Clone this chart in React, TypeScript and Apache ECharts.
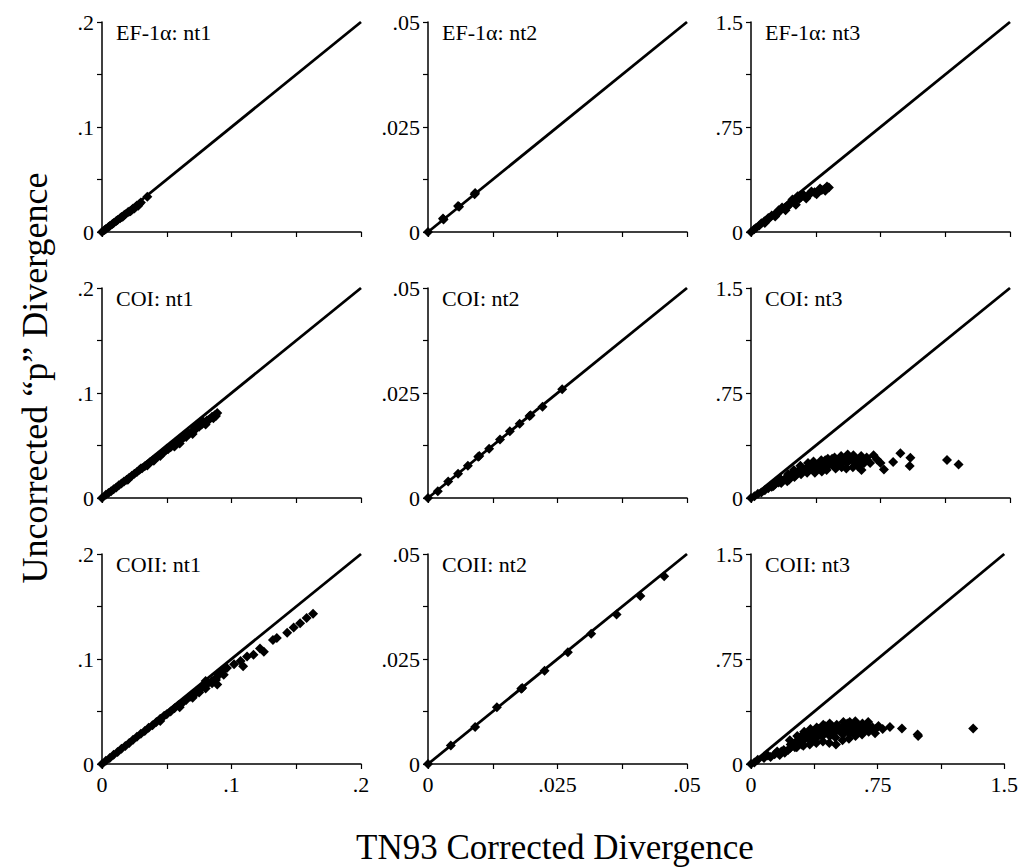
import React, { useEffect, useRef } from "react";
import * as echarts from "echarts";

// Panel titles
const panelTitles = [
  "EF-1α: nt1", "EF-1α: nt2", "EF-1α: nt3",
  "COI: nt1", "COI: nt2", "COI: nt3",
  "COII: nt1", "COII: nt2", "COII: nt3",
];

// Axis ranges and tick labels per column (nt1, nt2, nt3)
const colMax = [0.2, 0.05, 1.5];
const colInterval = [0.05, 0.0125, 0.375];
const colTickLabels = [
  ["0", "", ".1", "", ".2"],
  ["0", "", ".025", "", ".05"],
  ["0", "", ".75", "", "1.5"],
];

const xTitle = "TN93 Corrected Divergence";
const yTitle = "Uncorrected “p” Divergence";

// [TN93 corrected, uncorrected p]
const ef1aNt1 = [
  [0, 0], [0.002, 0.002], [0.003, 0.0028], [0.005, 0.0047], [0.006, 0.0058], [0.008, 0.0076],
  [0.009, 0.0086], [0.011, 0.0104], [0.012, 0.0114], [0.014, 0.0131], [0.015, 0.0143],
  [0.017, 0.0159], [0.018, 0.017], [0.02, 0.0187], [0.021, 0.0196], [0.023, 0.0213],
  [0.024, 0.0224], [0.026, 0.0241], [0.027, 0.0253], [0.029, 0.0268], [0.03, 0.0281],
  [0.025, 0.0225], [0.028, 0.025], [0.022, 0.0198], [0.016, 0.0145], [0.035, 0.0335],
];
const ef1aNt2 = [
  [0, 0], [0.003, 0.003], [0.0029, 0.0032], [0.006, 0.006], [0.0058, 0.0062],
  [0.009, 0.009], [0.0091, 0.0093],
];
const ef1aNt3 = [
  [0, 0], [0.019, 0.019], [0.048, 0.047], [0.077, 0.076], [0.106, 0.099], [0.135, 0.123],
  [0.165, 0.147], [0.194, 0.17], [0.223, 0.194], [0.252, 0.218], [0.281, 0.237],
  [0.31, 0.256], [0.339, 0.27], [0.368, 0.284], [0.397, 0.296], [0.426, 0.308], [0.451, 0.317],
  [0.06, 0.062], [0.12, 0.118], [0.18, 0.175], [0.24, 0.232], [0.27, 0.255], [0.3, 0.27],
  [0.35, 0.29], [0.4, 0.31], [0.44, 0.325],
  [0.08, 0.065], [0.14, 0.11], [0.2, 0.155], [0.26, 0.195], [0.32, 0.24], [0.38, 0.27], [0.43, 0.295],
  [0.03, 0.03], [0.09, 0.085], [0.15, 0.13], [0.21, 0.18], [0.29, 0.25], [0.33, 0.26],
  [0.37, 0.28], [0.41, 0.3], [0.22, 0.2], [0.16, 0.155], [0.1, 0.1],
];
const coiNt1 = [
  [0, 0], [0.003, 0.003], [0.005, 0.0048], [0.007, 0.0065], [0.009, 0.0084], [0.011, 0.0101],
  [0.013, 0.0121], [0.015, 0.0139], [0.017, 0.0158], [0.019, 0.0175], [0.021, 0.0194],
  [0.023, 0.0211], [0.025, 0.0231], [0.027, 0.0247], [0.029, 0.0269], [0.031, 0.0284],
  [0.033, 0.0303], [0.035, 0.0319], [0.037, 0.0341], [0.039, 0.0356], [0.041, 0.0377],
  [0.043, 0.0392], [0.045, 0.0411], [0.047, 0.0429], [0.049, 0.0449], [0.051, 0.0464],
  [0.053, 0.0484], [0.055, 0.0501], [0.057, 0.0521], [0.059, 0.0537], [0.061, 0.0556],
  [0.063, 0.0574], [0.065, 0.0591], [0.067, 0.0609], [0.069, 0.0629], [0.071, 0.0645],
  [0.073, 0.0665], [0.075, 0.0679], [0.077, 0.0701], [0.079, 0.0717], [0.081, 0.0737],
  [0.083, 0.0751], [0.085, 0.0773], [0.087, 0.0789], [0.089, 0.081],
  [0.02, 0.0175], [0.04, 0.0355], [0.06, 0.052], [0.07, 0.061], [0.08, 0.07], [0.086, 0.076],
  [0.03, 0.028], [0.05, 0.047], [0.066, 0.062], [0.076, 0.071], [0.056, 0.049],
  [0.035, 0.031], [0.045, 0.04], [0.055, 0.051], [0.065, 0.058], [0.072, 0.067],
  [0.082, 0.074], [0.088, 0.078], [0.078, 0.073],
];
const coiNt2 = [
  [0, 0], [0.0019, 0.0016], [0.0039, 0.0039], [0.0058, 0.0058], [0.0077, 0.0077],
  [0.0099, 0.01], [0.0097, 0.0098], [0.0118, 0.0117], [0.0139, 0.0139], [0.0158, 0.0159],
  [0.0177, 0.0177], [0.0198, 0.0197], [0.0196, 0.0195], [0.0221, 0.0217], [0.0259, 0.0259],
];
const coiNt3 = [
  [0, 0], [0.02, 0.012], [0.04, 0.03], [0.06, 0.04], [0.08, 0.055], [0.1, 0.07], [0.12, 0.08],
  [0.14, 0.1], [0.13, 0.085], [0.16, 0.11], [0.18, 0.12], [0.17, 0.135],
  [0.173, 0.132], [0.175, 0.108],
  [0.212, 0.156], [0.21, 0.12], [0.215, 0.17],
  [0.25, 0.18], [0.252, 0.15], [0.248, 0.2],
  [0.288, 0.204], [0.29, 0.17], [0.286, 0.23],
  [0.327, 0.22], [0.325, 0.18], [0.33, 0.25],
  [0.365, 0.24], [0.367, 0.2], [0.362, 0.26], [0.37, 0.18],
  [0.404, 0.25], [0.4, 0.21], [0.407, 0.27], [0.41, 0.19],
  [0.442, 0.26], [0.44, 0.22], [0.445, 0.28], [0.438, 0.2],
  [0.481, 0.27], [0.478, 0.23], [0.484, 0.29], [0.49, 0.21],
  [0.519, 0.28], [0.515, 0.24], [0.522, 0.3], [0.525, 0.22],
  [0.558, 0.285], [0.555, 0.25], [0.56, 0.31], [0.552, 0.21],
  [0.596, 0.29], [0.6, 0.255], [0.593, 0.305], [0.59, 0.22],
  [0.635, 0.28], [0.63, 0.25], [0.638, 0.3], [0.64, 0.2],
  [0.673, 0.27], [0.67, 0.29],
  [0.23, 0.165], [0.27, 0.19], [0.31, 0.2], [0.35, 0.23], [0.385, 0.235], [0.42, 0.245],
  [0.46, 0.25], [0.5, 0.26], [0.54, 0.27], [0.575, 0.275], [0.615, 0.265], [0.655, 0.25],
  [0.39, 0.22], [0.43, 0.27], [0.47, 0.28], [0.51, 0.25], [0.55, 0.295], [0.6, 0.28],
  [0.62, 0.225], [0.5, 0.225], [0.45, 0.24], [0.34, 0.21], [0.3, 0.19], [0.2, 0.14],
  [0.22, 0.13], [0.26, 0.165],
  [0.69, 0.25], [0.71, 0.305], [0.73, 0.275], [0.75, 0.25], [0.77, 0.204], [0.823, 0.257],
  [0.865, 0.319], [0.923, 0.288], [0.919, 0.228], [1.135, 0.271], [1.202, 0.24],
];
const coiiNt1 = [
  [0, 0], [0.003, 0.003], [0.006, 0.0058], [0.009, 0.0087], [0.012, 0.0115], [0.015, 0.0145],
  [0.018, 0.0172], [0.021, 0.02], [0.024, 0.023], [0.027, 0.026], [0.03, 0.0288],
  [0.033, 0.0315], [0.036, 0.0345], [0.039, 0.037], [0.042, 0.04], [0.045, 0.043],
  [0.048, 0.046], [0.05, 0.0475], [0.053, 0.05], [0.056, 0.053], [0.059, 0.056],
  [0.062, 0.058], [0.065, 0.061], [0.068, 0.064], [0.07, 0.066], [0.073, 0.068],
  [0.076, 0.071], [0.079, 0.074], [0.082, 0.077], [0.085, 0.079], [0.088, 0.082],
  [0.09, 0.085], [0.092, 0.087],
  [0.045, 0.041], [0.06, 0.054], [0.07, 0.063], [0.075, 0.068], [0.08, 0.072], [0.085, 0.077],
  [0.088, 0.08], [0.08, 0.079], [0.094, 0.09],
  [0.0965, 0.0914], [0.102, 0.095], [0.107, 0.098], [0.109, 0.093], [0.112, 0.1025],
  [0.117, 0.104], [0.122, 0.11], [0.125, 0.107], [0.132, 0.118], [0.135, 0.12],
  [0.143, 0.125], [0.148, 0.13], [0.153, 0.134], [0.158, 0.139], [0.163, 0.143],
  [0.094, 0.085], [0.089, 0.0756],
];
const coiiNt2 = [
  [0, 0], [0.0044, 0.0044], [0.0091, 0.0088], [0.0133, 0.0135], [0.018, 0.0179],
  [0.0182, 0.0181], [0.0225, 0.0222], [0.027, 0.0266], [0.0315, 0.031], [0.0364, 0.0356],
  [0.041, 0.04], [0.0456, 0.0447],
];
const coiiNt3 = [
  [0, 0], [0.02, 0.01], [0.04, 0.03], [0.077, 0.043], [0.1, 0.06], [0.116, 0.05], [0.14, 0.07],
  [0.155, 0.09], [0.17, 0.065], [0.194, 0.1], [0.2, 0.08],
  [0.232, 0.115], [0.235, 0.14], [0.23, 0.17],
  [0.271, 0.12], [0.268, 0.16], [0.274, 0.2],
  [0.31, 0.13], [0.312, 0.17], [0.308, 0.21], [0.315, 0.23],
  [0.348, 0.14], [0.345, 0.18], [0.35, 0.22], [0.352, 0.25],
  [0.387, 0.15], [0.39, 0.19], [0.384, 0.23], [0.389, 0.26],
  [0.426, 0.16], [0.423, 0.2], [0.43, 0.24], [0.428, 0.28],
  [0.464, 0.15], [0.467, 0.2], [0.46, 0.25], [0.466, 0.29],
  [0.503, 0.14], [0.5, 0.19], [0.506, 0.24], [0.508, 0.28],
  [0.542, 0.17], [0.545, 0.21], [0.54, 0.26], [0.547, 0.3],
  [0.58, 0.18], [0.583, 0.22], [0.578, 0.27], [0.585, 0.3],
  [0.619, 0.2], [0.615, 0.24], [0.622, 0.28], [0.618, 0.305],
  [0.658, 0.21], [0.655, 0.25], [0.66, 0.29],
  [0.697, 0.23], [0.7, 0.27], [0.694, 0.3],
  [0.735, 0.22], [0.738, 0.25],
  [0.25, 0.14], [0.29, 0.18], [0.33, 0.19], [0.37, 0.21], [0.41, 0.22], [0.45, 0.23],
  [0.49, 0.22], [0.52, 0.26], [0.56, 0.24], [0.6, 0.25], [0.64, 0.27], [0.68, 0.25],
  [0.72, 0.26], [0.36, 0.17], [0.4, 0.25], [0.44, 0.27], [0.48, 0.27], [0.53, 0.23],
  [0.57, 0.29], [0.61, 0.22], [0.65, 0.23], [0.3, 0.14], [0.26, 0.12], [0.22, 0.1], [0.18, 0.09],
  [0.755, 0.271], [0.78, 0.25], [0.823, 0.264], [0.894, 0.254], [0.987, 0.211], [0.99, 0.2],
  [1.316, 0.254],
];

const panelData = [ef1aNt1, ef1aNt2, ef1aNt3, coiNt1, coiNt2, coiNt3, coiiNt1, coiiNt2, coiiNt3];

const FONT = "'Liberation Serif', 'Times New Roman', serif";
const colLeft = [102, 428, 751];
const rowTop = [22, 288, 554];
const gridW = 259;
const gridH = 210;

export default function App() {
  const ref = useRef<HTMLDivElement>(null);
  useEffect(() => {
    if (!ref.current) return;
    const chart = echarts.init(ref.current, null, { renderer: "svg" });
    const grids: any[] = [];
    const xAxes: any[] = [];
    const yAxes: any[] = [];
    const series: any[] = [];
    const graphics: any[] = [];
    for (let r = 0; r < 3; r++) {
      for (let c = 0; c < 3; c++) {
        const i = r * 3 + c;
        grids.push({ left: colLeft[c], top: rowTop[r], width: gridW, height: gridH });
        const labels = colTickLabels[c];
        const itv = colInterval[c];
        const fmt = (v: number) => labels[Math.round(v / itv)] ?? "";
        const axisCommon = {
          type: "value",
          min: 0,
          max: colMax[c],
          interval: itv,
          gridIndex: i,
          splitLine: { show: false },
          axisLine: { show: true, onZero: false, lineStyle: { color: "#000", width: 1.5 } },
          axisTick: { show: true, length: 5, lineStyle: { color: "#000", width: 1.2 } },
        };
        xAxes.push({
          ...axisCommon,
          axisLabel: {
            show: r === 2,
            formatter: fmt,
            color: "#000",
            fontSize: 22,
            fontFamily: FONT,
            margin: 9,
            showMinLabel: true,
            showMaxLabel: true,
          },
        });
        yAxes.push({
          ...axisCommon,
          axisLabel: {
            show: true,
            formatter: fmt,
            color: "#000",
            fontSize: 22,
            fontFamily: FONT,
            margin: 8,
            showMinLabel: true,
            showMaxLabel: true,
          },
        });
        series.push({
          type: "line",
          xAxisIndex: i,
          yAxisIndex: i,
          data: [[0, 0], [colMax[c], colMax[c]]],
          symbol: "none",
          lineStyle: { color: "#000", width: 2.8 },
          silent: true,
          z: 2,
        });
        series.push({
          type: "scatter",
          xAxisIndex: i,
          yAxisIndex: i,
          data: panelData[i],
          symbol: "diamond",
          symbolSize: 10,
          itemStyle: { color: "#000", opacity: 1 },
          clip: false,
          z: 3,
        });
        graphics.push({
          type: "text",
          x: colLeft[c] + 14,
          y: rowTop[r] + 10,
          style: {
            text: panelTitles[i],
            fill: "#000",
            font: `22px ${FONT}`,
            textVerticalAlign: "middle",
            textAlign: "left",
          },
        });
      }
    }
    graphics.push({
      type: "text",
      x: 555,
      y: 847,
      style: {
        text: xTitle,
        fill: "#000",
        font: `35px ${FONT}`,
        textAlign: "center",
        textVerticalAlign: "middle",
      },
    });
    graphics.push({
      type: "text",
      x: 35,
      y: 378,
      rotation: Math.PI / 2,
      style: {
        text: yTitle,
        fill: "#000",
        font: `36px ${FONT}`,
        textAlign: "center",
        textVerticalAlign: "middle",
      },
    });
    chart.setOption({
      animation: false,
      backgroundColor: "#fff",
      grid: grids,
      xAxis: xAxes,
      yAxis: yAxes,
      series,
      graphic: graphics,
    });
    return () => chart.dispose();
  }, []);
  return (
    <div
      ref={ref}
      style={{ position: "absolute", left: 0, top: 0, width: 1021, height: 867 }}
    />
  );
}
